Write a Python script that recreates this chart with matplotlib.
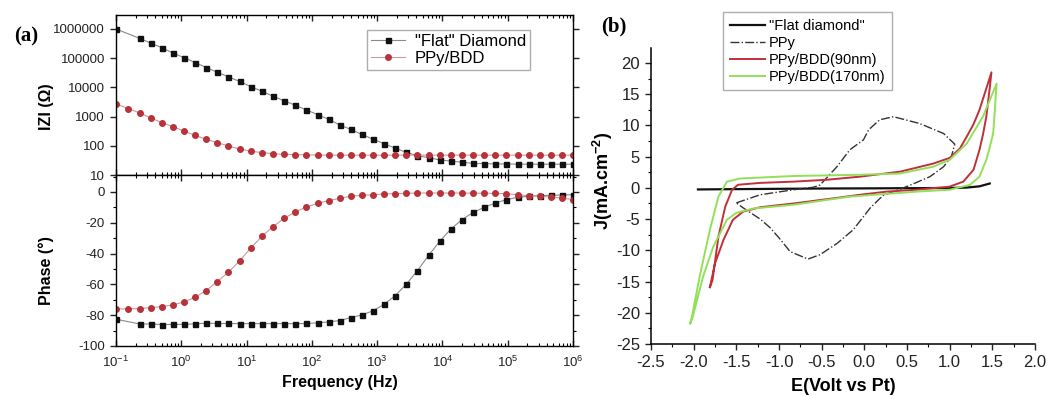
import matplotlib
matplotlib.use('Agg')
import matplotlib.pyplot as plt
from matplotlib.ticker import MultipleLocator, LogLocator, NullLocator, NullFormatter

plt.rcParams['font.family'] = ['Liberation Sans', 'DejaVu Sans']
plt.rcParams['mathtext.fontset'] = 'custom'
plt.rcParams['mathtext.rm'] = 'Liberation Sans'
plt.rcParams['mathtext.bf'] = 'Liberation Sans:bold'
plt.rcParams['axes.unicode_minus'] = False

# ---- (a) impedance data ----
freq_flat = [0.1, 0.229, 0.339, 0.502, 0.743, 1.10, 1.63, 2.41, 3.56, 5.28, 7.81,
             11.6, 17.1, 25.3, 37.5, 55.5, 82.2, 122, 180, 266, 394, 583, 863,
             1279, 1892, 2800, 4146, 6137, 9080, 13430, 19900, 29440, 43550,
             64560, 95500, 141250, 208900, 309700, 458100, 677600, 1.0e6]
freq_ppy = [0.1, 0.155] + freq_flat[1:]

z_flat = [1.0e6, 4.8e5, 3.3e5, 2.3e5, 1.5e5, 1.05e5, 7.1e4, 4.8e4, 3.3e4, 2.3e4,
          1.6e4, 1.07e4, 7400, 5000, 3500, 2450, 1700, 1175, 810, 525, 363, 245,
          170, 117, 83, 60, 46, 39, 33, 30, 27.5, 25, 24.5, 24, 24, 23.5, 23.5,
          23.5, 23.5, 23.5, 23.5]
z_ppy = [2750, 1860, 1350, 912, 617, 457, 316, 229, 166, 129, 98, 78, 65, 59, 54,
         51, 50, 49, 48.5, 48, 48, 48, 48, 48, 48, 48, 48, 48, 48, 48, 48, 48, 48,
         48, 48, 48, 48, 48, 48, 48, 48, 48]

ph_flat = [-82.6, -85.7, -85.7, -86.1, -86.0, -86.0, -85.6, -85.2, -85.4, -85.4,
           -85.5, -85.5, -85.5, -85.5, -85.5, -85.5, -85.4, -85.0, -84.4, -83.5,
           -81.6, -79.8, -77.2, -72.9, -67.3, -59.9, -51.0, -41.2, -32.1, -24.1,
           -18.0, -13.3, -10.0, -7.2, -5.0, -3.5, -2.8, -2.4, -2.2, -2.0, -1.8]
ph_ppy = [-75.9, -75.9, -75.7, -75.1, -74.4, -73.3, -71.4, -68.3, -64.0, -58.2,
          -52.1, -44.7, -36.4, -28.9, -22.6, -17.2, -13.0, -9.8, -7.4, -5.6, -4.2,
          -2.8, -2.2, -1.8, -1.3, -1.1, -0.9, -0.7, -0.7, -0.7, -0.7, -0.7, -0.8,
          -0.8, -1.0, -1.1, -1.8, -2.4, -2.8, -3.3, -4.0, -5.0]

z_ticks = [10, 100, 1000, 10000, 100000, 1000000]
z_ticklabels = ['10', '100', '1000', '10000', '100000', '1000000']

# ---- (b) cyclic voltammetry data ----
e_flat = [-1.95, -1.5, -1.0, -0.5, 0.0, 0.5, 1.0, 1.2, 1.35, 1.47]
j_flat = [-0.25, -0.2, -0.15, -0.1, -0.08, -0.05, -0.02, 0.05, 0.25, 0.7]

e_ppy = [-1.5, -1.22, -0.83, -0.6, -0.52, -0.32, -0.17, -0.01, 0.05, 0.18, 0.34,
         0.65, 0.93, 1.06, 1.02, 0.93, 0.77, 0.54, 0.42, 0.22, 0.07, -0.13, -0.32,
         -0.52, -0.66, -0.87, -1.0, -1.11, -1.22, -1.42, -1.5]
j_ppy = [-2.4, -1.1, -0.3, 0.1, 0.45, 3.4, 6.1, 7.7, 9.3, 10.9, 11.4,
         10.3, 8.7, 7.0, 5.0, 3.4, 1.8, 0.45, -0.2, -1.2, -3.2, -6.7, -8.9,
         -10.7, -11.4, -10.2, -8.0, -6.3, -5.0, -3.2, -2.4]

e_bdd90 = [-1.81, -1.78, -1.71, -1.63, -1.55, -1.48, -1.22, -0.83, -0.44, -0.05,
           0.42, 0.81, 1.0, 1.12, 1.2, 1.28, 1.35, 1.42, 1.49, 1.47, 1.43, 1.39,
           1.35, 1.28, 1.16, 1.0, 0.84, 0.61, 0.26, -0.05, -0.32, -0.83, -1.22,
           -1.42, -1.54, -1.65, -1.75, -1.81]
j_bdd90 = [-15.9, -14.8, -7.8, -3.0, -0.3, 0.5, 0.8, 1.0, 1.3, 1.8,
           2.6, 3.9, 4.8, 6.3, 8.2, 10.2, 12.5, 15.5, 18.5, 16.0, 11.4, 8.5,
           6.1, 2.9, 1.0, 0.2, 0.0, -0.3, -0.6, -1.1, -1.6, -2.5, -3.1,
           -3.8, -5.1, -8.3, -12.1, -15.9]

e_bdd170 = [-2.04, -2.02, -1.93, -1.81, -1.71, -1.61, -1.46, -0.83, -0.05, 0.42,
            0.81, 1.0, 1.2, 1.39, 1.55, 1.53, 1.51, 1.47, 1.43, 1.35, 1.24, 1.0,
            0.61, 0.22, -0.17, -0.83, -1.3, -1.5, -1.61, -1.77, -1.89, -2.01, -2.04]
j_bdd170 = [-21.7, -20.6, -14.2, -6.7, -1.4, 1.0, 1.5, 1.9, 2.1, 2.3,
            3.4, 4.5, 7.1, 11.4, 16.7, 12.5, 8.7, 6.5, 4.5, 1.8, 0.5, -0.3,
            -0.6, -1.0, -1.4, -2.7, -3.3, -4.0, -5.1, -9.4, -14.2, -20.6, -21.7]

fig = plt.figure(figsize=(10.47, 3.96), dpi=100)

ax1 = fig.add_axes([0.1108, 0.558, 0.4365, 0.404])
ax2 = fig.add_axes([0.1108, 0.1263, 0.4365, 0.4318])
ax3 = fig.add_axes([0.6218, 0.1313, 0.3667, 0.7475])

black = '#111111'
red = '#b8323a'

# |Z|
ax1.plot(freq_flat, z_flat, '-', color='#8a8a8a', lw=0.8, marker='s', ms=3.6,
         mfc=black, mec=black, label='"Flat" Diamond')
ax1.plot(freq_ppy, z_ppy, '-', color='#c89a9a', lw=0.8, marker='o', ms=4,
         mfc=red, mec=red, label='PPy/BDD')
ax1.set_xscale('log')
ax1.set_yscale('log')
ax1.set_xlim(0.1, 1e6)
ax1.set_ylim(10, 3.0e6)
ax1.set_yticks(z_ticks, labels=z_ticklabels)
ax1.yaxis.set_minor_locator(NullLocator())
ax1.xaxis.set_minor_locator(LogLocator(subs=range(2, 10), numticks=20))
ax1.xaxis.set_major_formatter(NullFormatter())
ax1.xaxis.set_minor_formatter(NullFormatter())
ax1.set_ylabel('IZI (Ω)', fontsize=11.5, fontweight='bold')
ax1.yaxis.set_label_coords(-0.135, 0.425)
ax1.legend(loc='upper right', bbox_to_anchor=(0.906, 0.906), borderaxespad=0,
           fontsize=12, frameon=True, fancybox=False, edgecolor='#999999',
           handlelength=2.0, labelspacing=0.1, borderpad=0.25, handletextpad=0.6)

# phase
ax2.plot(freq_flat, ph_flat, '-', color='#8a8a8a', lw=0.8, marker='s', ms=3.6,
         mfc=black, mec=black)
ax2.plot(freq_ppy, ph_ppy, '-', color='#c89a9a', lw=0.8, marker='o', ms=4,
         mfc=red, mec=red)
ax2.set_xscale('log')
ax2.set_xlim(0.1, 1e6)
ax2.set_ylim(-100, 11)
ax2.set_yticks([-100, -80, -60, -40, -20, 0])
ax2.yaxis.set_minor_locator(MultipleLocator(10))
ax2.xaxis.set_major_locator(LogLocator(numticks=20))
ax2.xaxis.set_minor_locator(LogLocator(subs=range(2, 10), numticks=20))
ax2.set_ylabel('Phase (°)', fontsize=11.5, fontweight='bold')
ax2.yaxis.set_label_coords(-0.135, 0.444)
ax2.set_xlabel('Frequency (Hz)', fontsize=11.5, fontweight='bold')
ax2.xaxis.set_label_coords(0.49, -0.17)

for ax in (ax1, ax2):
    for s in ax.spines.values():
        s.set_linewidth(1.0)
    ax.tick_params(axis='x', which='both', direction='in', top=True, bottom=True)
    ax.tick_params(axis='y', which='both', direction='out', left=True, right=True)
    ax.tick_params(which='major', length=4.5, width=1.0, labelsize=9.5, colors='#222222')
    ax.tick_params(which='minor', length=2.5, width=0.8)
ax2.tick_params(axis='x', which='major', pad=6)

# CV
ax3.plot(e_flat, j_flat, '-', color='#111111', lw=1.6, label='"Flat diamond"')
ax3.plot(e_ppy, j_ppy, '-.', color='#333333', lw=1.0, label='PPy')
ax3.plot(e_bdd90, j_bdd90, '-', color='#c0303a', lw=1.4, label='PPy/BDD(90nm)')
ax3.plot(e_bdd170, j_bdd170, '-', color='#92e05a', lw=1.4, label='PPy/BDD(170nm)')
ax3.set_xlim(-2.5, 2.0)
ax3.set_ylim(-25, 22.4)
ax3.xaxis.set_major_locator(MultipleLocator(0.5))
ax3.xaxis.set_minor_locator(MultipleLocator(0.25))
ax3.yaxis.set_major_locator(MultipleLocator(5))
ax3.yaxis.set_minor_locator(MultipleLocator(2.5))
ax3.spines['top'].set_visible(False)
ax3.spines['right'].set_visible(False)
ax3.spines['left'].set_linewidth(1.1)
ax3.spines['bottom'].set_linewidth(1.1)
ax3.tick_params(which='both', direction='out')
ax3.tick_params(which='major', length=4.5, width=1.0, labelsize=12, colors='#222222')
ax3.tick_params(which='minor', length=2.5, width=0.8)
ax3.set_ylabel(r'J(mA.cm$^{\mathbf{-2}}$)', fontsize=13, fontweight='bold')
ax3.yaxis.set_label_coords(-0.095, 0.55)
ax3.set_xlabel('E(Volt vs Pt)', fontsize=13, fontweight='bold')
ax3.xaxis.set_label_coords(0.5, -0.115)
ax3.legend(loc='upper left', bbox_to_anchor=(0.1875, 1.12), borderaxespad=0,
           fontsize=10.5, frameon=True, fancybox=False, edgecolor='#999999',
           handlelength=2.4, labelspacing=0.2, borderpad=0.45, handletextpad=0.3)

fig.text(0.025, 0.909, '(a)', fontsize=15, fontweight='bold',
         family=['Liberation Serif', 'DejaVu Serif'], ha='center', va='center')
fig.text(0.586, 0.932, '(b)', fontsize=15, fontweight='bold',
         family=['Liberation Serif', 'DejaVu Serif'], ha='center', va='center')

fig.savefig('out.png', dpi=100)
